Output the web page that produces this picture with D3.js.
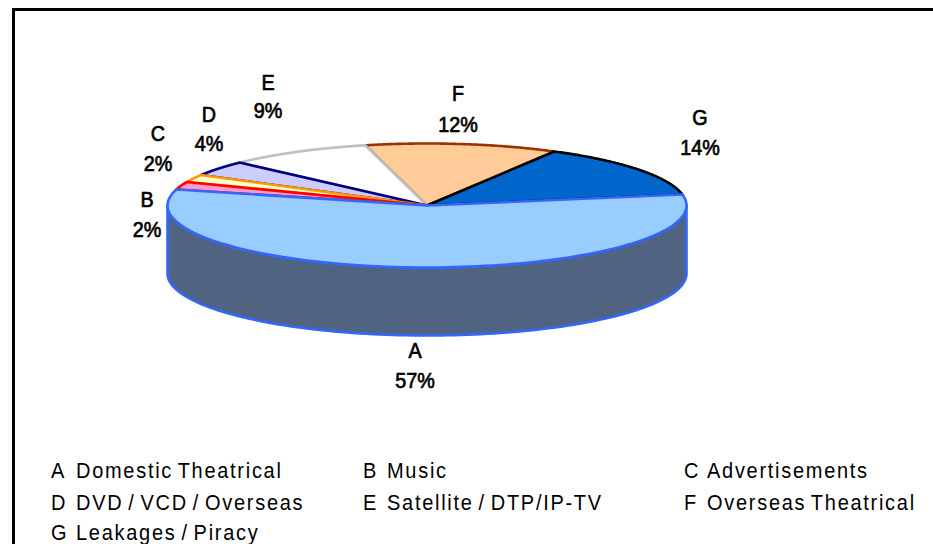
<!DOCTYPE html>
<html>
<head>
<meta charset="utf-8">
<script src="https://cdn.jsdelivr.net/npm/d3@7"></script>
<style>
html,body{margin:0;padding:0;background:#fff}
svg{display:block}
text{font-family:"Liberation Sans",Arial,sans-serif;fill:#000}
</style>
</head>
<body>
<svg id="chart" width="933" height="544"></svg>
<script>
// Revenue share by source
const letters = ["A","B","C","D","E","F","G"];
const sources = ["Domestic Theatrical","Music","Advertisements","DVD / VCD / Overseas","Satellite / DTP/IP-TV","Overseas Theatrical","Leakages / Piracy"];
const shares = [57,2,2,4,9,12,14];
const fills = ["#99ccff","#ff99cc","#ffffcc","#ccccff","#ffffff","#ffcc99","#0066cc"];
const edges = ["#3366ff","#ff0000","#ff9900","#000080","#c0c0c0","#993300","#000000"];
const sideFill = "#506482";
// Later slices paint over their neighbours' shared edges
const paintOrder = ["F","E","D","C","B","G","A"];

// Disc geometry
const rimDepth = 68;
const x = d3.scaleLinear().domain([-1,1]).range([167.5,686.5]);
const y = d3.scaleLinear().domain([-1,1]).range([143.5,267.5]);
const firstSliceAngle = 79.8*Math.PI/180;

// Label centres, in the same order as the letters
const labelCentres = [[415,350.3],[147,199.3],[158,133.3],[209,114.3],[268,82.3],[458,93.3],[700,117.3]];
const labelLeading = [30,30,30,29,28,31,30];

// Legend layout
const legendColumns = [[51,76],[363,387],[684,707]];
const legendRows = [478,510,540];

const svg = d3.select("#chart");

// Frame along the top and the left
svg.append("path")
  .attr("d","M13.5 544V9.5H933")
  .attr("fill","none").attr("stroke","#000").attr("stroke-width",3);

// Pie angles run clockwise from twelve o'clock
const px = a => x(Math.sin(a));
const py = a => y(-Math.cos(a));
const curve = (a0,a1,n=120) => d3.range(n+1).map(i => a0+(a1-a0)*i/n);
const line = d3.line();

const arcs = d3.pie().sort(null).value(d=>d)
  .startAngle(firstSliceAngle)
  .endAngle(firstSliceAngle+2*Math.PI)(shares);

// Visible rim below the front of the disc
const frontA = Math.PI/2, frontB = 3*Math.PI/2;
const front = curve(frontA,frontB);
const rimPoints = front.map(a=>[px(a),py(a)])
  .concat(front.slice().reverse().map(a=>[px(a),py(a)+rimDepth]));
svg.append("path").attr("d",line(rimPoints)+"Z")
  .attr("fill",sideFill).attr("stroke",edges[0]).attr("stroke-width",2.6)
  .attr("stroke-linejoin","round");

// Top face, one wedge per source
svg.append("g").selectAll("path")
  .data(paintOrder.map(l=>letters.indexOf(l)))
  .join("path")
  .attr("d",i=>{
    const a = arcs[i];
    const pts = curve(a.startAngle,a.endAngle).map(t=>[px(t),py(t)]);
    return line([[x(0),y(0)],...pts])+"Z";
  })
  .attr("fill",i=>fills[i])
  .attr("stroke",i=>edges[i])
  .attr("stroke-width",2.6)
  .attr("stroke-linejoin","round");

// Narrowed text helper
const placeText = (g,tx,ty,sx,str) => g.append("text")
  .attr("transform",`translate(${tx},${ty}) scale(${sx},1)`).text(str);

// Letter and percentage beside each wedge
const labels = svg.append("g").attr("text-anchor","middle")
  .attr("font-size",21.5).attr("stroke","#000").attr("stroke-width",0.7);
letters.forEach((l,i)=>{
  const [cx,cy] = labelCentres[i];
  placeText(labels,cx,cy+7.5,0.92,l);
  placeText(labels,cx,cy+7.5+labelLeading[i],0.92,shares[i]+"%");
});

// Legend, three to a row
const legend = svg.append("g").attr("font-size",21.5)
  .attr("letter-spacing",1.85).attr("word-spacing",-2.5);
letters.forEach((l,i)=>{
  const [lx,nx] = legendColumns[i%3];
  const by = legendRows[Math.floor(i/3)];
  placeText(legend,lx,by,0.93,l);
  placeText(legend,nx,by,0.93,sources[i]);
});
</script>
</body>
</html>
